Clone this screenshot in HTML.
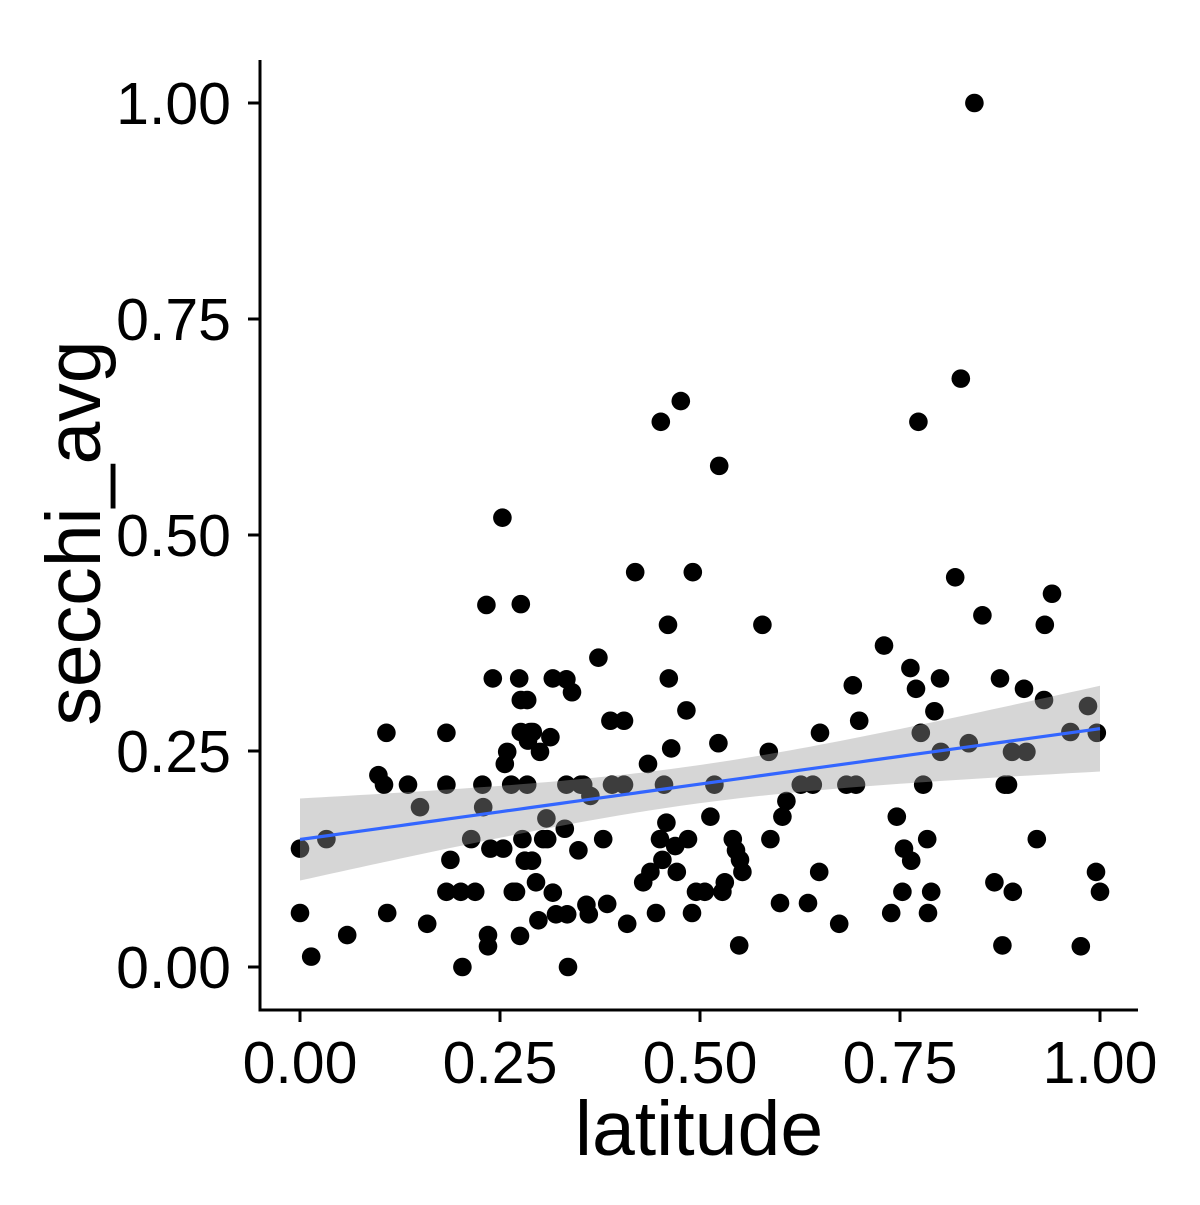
<!DOCTYPE html>
<html><head><meta charset="utf-8"><style>
body{margin:0;background:#fff;}
svg text{font-family:"Liberation Sans",Arial,sans-serif;fill:#000;}
</style></head><body>
<svg id="chart" width="1200" height="1200" viewBox="0 0 1200 1200" xmlns="http://www.w3.org/2000/svg">
<rect width="1200" height="1200" fill="#fff"/>
<g id="points"></g>
<g id="smooth"></g>
<g id="axes"></g>
</svg>
<script>
const latitude=[0,0,.014,.033,.059,.098,.108,.105,.109,.135,.15,.159,.183,.183,.188,.183,.201,.203,.219,.214,.228,.229,.233,.235,.235,.238,.241,.253,.256,.254,.259,.264,.266,.27,.274,.275,.276,.276,.276,.278,.281,.284,.284,.285,.288,.29,.291,.295,.298,.3,.304,.308,.309,.313,.316,.316,.32,.333,.331,.333,.334,.335,.34,.348,.351,.354,.358,.361,.363,.373,.379,.384,.388,.39,.405,.405,.409,.419,.429,.435,.438,.445,.45,.451,.453,.455,.458,.46,.461,.464,.469,.471,.476,.483,.485,.49,.491,.495,.506,.513,.518,.523,.524,.528,.531,.541,.545,.549,.55,.553,.578,.586,.588,.6,.603,.608,.626,.635,.641,.649,.65,.674,.683,.691,.695,.699,.73,.739,.746,.753,.755,.763,.764,.77,.773,.776,.779,.784,.785,.789,.793,.8,.801,.819,.826,.836,.843,.853,.868,.875,.878,.881,.885,.89,.891,.905,.908,.921,.931,.93,.94,.963,.976,.985,.995,.996,1.0];
const secchi=[.137,.0625,.012,.148,.037,.222,.271,.211,.0625,.211,.185,.05,.271,.211,.124,.087,.087,0,.087,.148,.211,.185,.419,.037,.024,.137,.334,.52,.235,.137,.249,.211,.087,.087,.334,.036,.42,.309,.272,.148,.123,.211,.309,.262,.272,.123,.272,.098,.054,.249,.148,.172,.148,.266,.334,.086,.061,.333,.16,.211,.061,0,.318,.135,.211,.211,.072,.061,.198,.358,.148,.073,.285,.211,.285,.211,.05,.457,.098,.235,.11,.0625,.148,.631,.124,.211,.167,.396,.334,.253,.14,.11,.655,.297,.148,.0625,.457,.087,.087,.174,.211,.259,.58,.087,.098,.148,.135,.025,.124,.11,.396,.249,.148,.074,.174,.192,.211,.074,.211,.11,.271,.05,.211,.326,.211,.285,.372,.0625,.174,.087,.137,.346,.123,.322,.631,.271,.211,.148,.0625,.087,.296,.334,.249,.451,.681,.259,1.0,.407,.098,.334,.025,.211,.211,.249,.087,.322,.249,.148,.396,.309,.432,.272,.024,.302,.11,.271,.087];
const xTicks=[0,0.25,0.5,0.75,1];
const yTicks=[0,0.25,0.5,0.75,1];
const xLabels=["0.00","0.25","0.50","0.75","1.00"];
const yLabels=["0.00","0.25","0.50","0.75","1.00"];

const NS="http://www.w3.org/2000/svg";
const X=v=>300+v*800, Y=v=>967-v*864;
function mk(tag,attrs,parent){const e=document.createElementNS(NS,tag);for(const k in attrs)e.setAttribute(k,attrs[k]);parent.appendChild(e);return e;}
const gp=document.getElementById('points');
latitude.forEach((x,i)=>{
 const c=mk('circle',{cx:X(x),cy:Y(secchi[i]),r:9.3,fill:'#000'},gp);
 
 
});
const n=latitude.length;
const mx=latitude.reduce((a,b)=>a+b,0)/n, my=secchi.reduce((a,b)=>a+b,0)/n;
let sxx=0,sxy=0;for(let i=0;i<n;i++){sxx+=(latitude[i]-mx)**2;sxy+=(latitude[i]-mx)*(secchi[i]-my);}
const b=sxy/sxx,a=my-b*mx;
let sse=0;for(let i=0;i<n;i++){sse+=(secchi[i]-a-b*latitude[i])**2;}
const s=Math.sqrt(sse/(n-2)),t=1.975;
const xmin=Math.min(...latitude),xmax=Math.max(...latitude);
const up=[],lo=[],ln=[];
for(let k=0;k<=80;k++){const x=xmin+(xmax-xmin)*k/80;const f=a+b*x;const h=t*s*Math.sqrt(1/n+(x-mx)**2/sxx);
 up.push(X(x)+','+Y(f+h));lo.unshift(X(x)+','+Y(f-h));ln.push(X(x)+','+Y(f));}
const gs=document.getElementById('smooth');
const band=mk('polygon',{points:up.concat(lo).join(' '),fill:'#999',opacity:0.4},gs);


const line=mk('polyline',{points:ln.join(' '),fill:'none',stroke:'#3366FF',"stroke-width":3.2},gs);


const ga=document.getElementById('axes');
const yl=mk('line',{x1:260,y1:60,x2:260,y2:1011.5,stroke:'#000','stroke-width':3},ga);


const xl=mk('line',{x1:258.5,y1:1010,x2:1138,y2:1010,stroke:'#000','stroke-width':3},ga);


yTicks.forEach((v,i)=>{
 const tk=mk('line',{x1:248,y1:Y(v),x2:260,y2:Y(v),stroke:'#000','stroke-width':3},ga);
 
 
 const tx=mk('text',{x:231,y:Y(v)+21,'text-anchor':'end','font-size':59},ga);
 tx.textContent=yLabels[i];
 
 
});
xTicks.forEach((v,i)=>{
 const tk=mk('line',{x1:X(v),y1:1010,x2:X(v),y2:1022,stroke:'#000','stroke-width':3},ga);
 
 
 const tx=mk('text',{x:X(v),y:1083,'text-anchor':'middle','font-size':59},ga);
 tx.textContent=xLabels[i];
 
 
});
const xt=mk('text',{x:699,y:1155,'text-anchor':'middle','font-size':77},ga);
xt.textContent='latitude';


const yt=mk('text',{x:0,y:0,'text-anchor':'middle','font-size':77,transform:'translate(100,533) rotate(-90)'},ga);
yt.textContent='secchi_avg';


</script>
</body></html>
